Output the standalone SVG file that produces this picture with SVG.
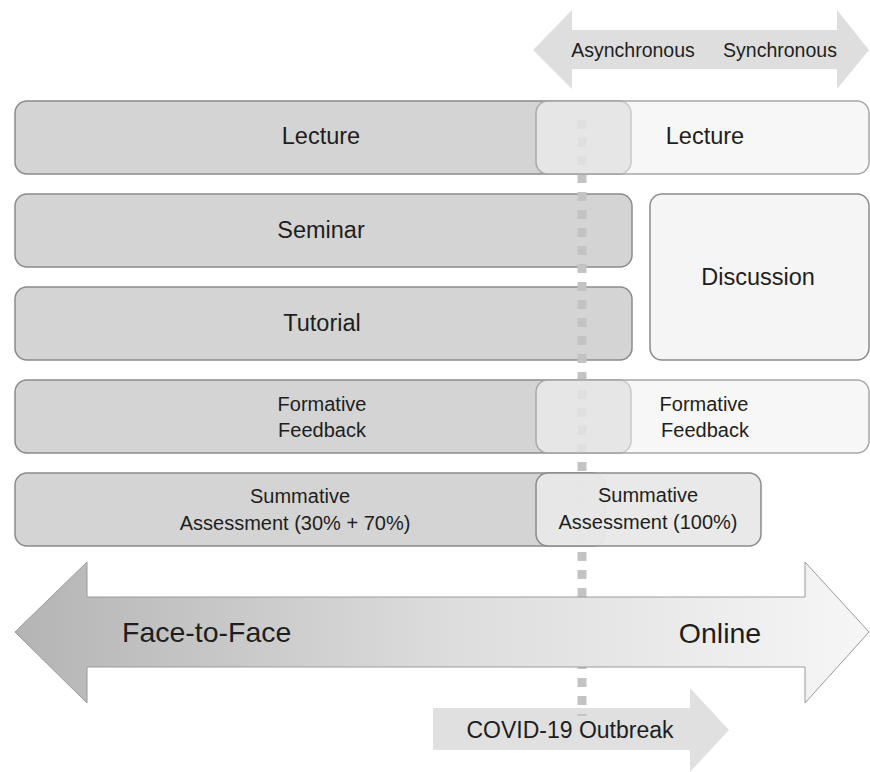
<svg xmlns="http://www.w3.org/2000/svg" width="870" height="772" viewBox="0 0 870 772">
<style>
text{font-family:"Liberation Sans",Arial,sans-serif;fill:#1e1e1e;text-anchor:middle}
.dark{fill:#d4d4d4;stroke:#8a8a8a;stroke-width:1.5}
.light{fill:#f1f1f1;fill-opacity:0.6;stroke:#a8a8a8;stroke-width:1.5}
.t24{font-size:23.5px}
.t20{font-size:20px}
.gray{fill:#dedede}
</style>
<defs>
<linearGradient id="g" x1="15" y1="0" x2="869" y2="0" gradientUnits="userSpaceOnUse">
<stop offset="0" stop-color="#b4b4b4"/>
<stop offset="0.5" stop-color="#dcdcdc"/>
<stop offset="1" stop-color="#f6f6f6"/>
</linearGradient>
</defs>
<rect width="870" height="772" fill="#ffffff"/>

<g id="sync-arrow">
<polygon class="gray" points="533,50 572,10 572,30 837,30 837,10 869,50 837,89 837,69 572,69 572,89"/>
<text x="633" y="57" style="font-size:19.5px">Asynchronous</text>
<text x="780" y="57" style="font-size:19.5px">Synchronous</text>
</g>

<g id="covid-arrow">
<polygon fill="#e0e0e0" points="433,708 690,708 690,688 729,730 690,772 690,750 433,750"/>
</g>

<g id="lecture-f2f"><rect class="dark" x="15" y="101" width="616" height="73" rx="12"/></g>
<g id="seminar"><rect class="dark" x="15" y="194" width="617" height="73" rx="12"/><text class="t24" x="321" y="238">Seminar</text></g>
<g id="tutorial"><rect class="dark" x="15" y="287" width="617" height="73" rx="12"/><text class="t24" x="322" y="331">Tutorial</text></g>
<g id="formative-f2f"><rect class="dark" x="15" y="380" width="616" height="73" rx="12"/></g>
<g id="summative-f2f"><rect class="dark" x="15" y="473" width="590" height="73" rx="12"/></g>

<g id="connectors">
<line x1="582" y1="120" x2="582" y2="716" stroke="#c3c3c3" stroke-width="9" stroke-dasharray="9 9"/>
</g>

<g id="lecture-online"><rect class="light" x="536" y="101" width="333" height="73" rx="12"/></g>
<g id="discussion"><rect x="650" y="194" width="219" height="166" rx="12" fill="#f5f5f5" stroke="#8a8a8a" stroke-width="1.5"/><text class="t24" x="758" y="285">Discussion</text></g>
<g id="formative-online"><rect class="light" x="536" y="380" width="333" height="73" rx="12"/></g>
<g id="summative-online"><rect x="536" y="473" width="225" height="73" rx="12" fill="#e8e8e8" fill-opacity="0.95" stroke="#8a8a8a" stroke-width="1.5"/></g>

<g id="labels">
<text class="t24" x="321" y="144">Lecture</text>
<text class="t24" x="705" y="144">Lecture</text>
<text class="t20" x="322" y="411">Formative</text>
<text class="t20" x="322" y="437">Feedback</text>
<text class="t20" x="704" y="411">Formative</text>
<text class="t20" x="705" y="437">Feedback</text>
<text class="t20" x="300" y="503">Summative</text>
<text class="t20" x="295" y="530">Assessment (30% + 70%)</text>
<text class="t20" x="648" y="502">Summative</text>
<text class="t20" x="648" y="529">Assessment (100%)</text>
</g>

<g id="mode-arrow">
<polygon fill="url(#g)" stroke="#9a9a9a" stroke-width="1" points="15,632 87,562 87,597 805,597 805,562 869,632 805,703 805,667 87,667 87,703"/>
<text x="122" y="642" style="font-size:28.5px;text-anchor:start">Face-to-Face</text>
<text x="720" y="643" style="font-size:28.5px">Online</text>
</g>

<g id="covid-label">
<text x="570" y="738" style="font-size:23px">COVID-19 Outbreak</text>
</g>
</svg>
